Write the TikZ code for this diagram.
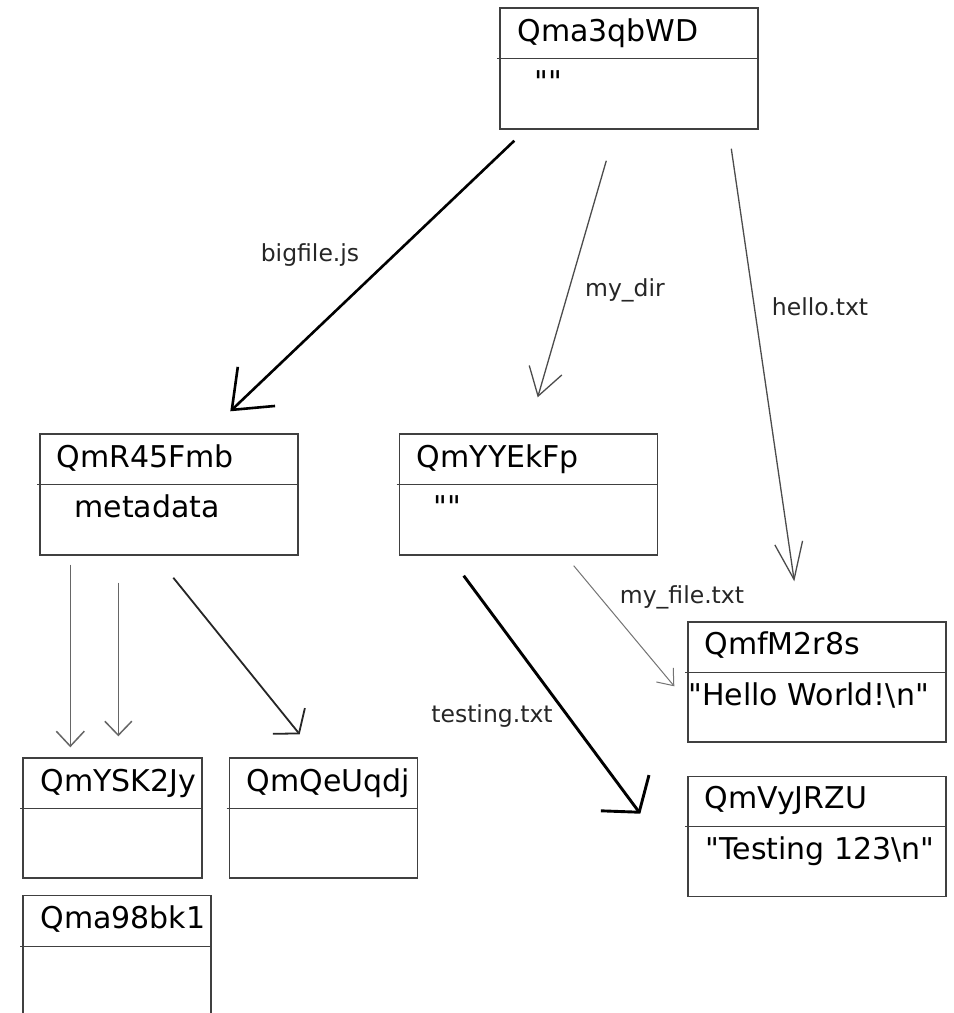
\documentclass[tikz,border=0pt]{standalone}
\usepackage{fontspec}
\setmainfont{DejaVu Sans}
\usepackage{tikz}
\usetikzlibrary{arrows.meta,positioning}

\begin{document}
\begin{tikzpicture}[
    x=1pt, y=-1pt,
    obj/.style={rectangle, draw=black!75, line width=1.4pt, minimum width=258pt, minimum height=121pt, inner sep=0pt},
    hash/.style={anchor=base west, inner sep=0pt, font=\fontsize{30}{36}\selectfont},
    divider/.style={draw=black!75, line width=1.4pt},
    edgelbl/.style={inner sep=0pt, text=black!85, font=\fontsize{23.5}{28}\selectfont},
    link/.style={draw=black!70, line width=1.3pt},
    heavy/.style={draw=black, line width=2.6pt},
    barb/.style 2 args={-{Straight Barb[length=#1, width=#2]}}
]
    \useasboundingbox[fill=white] (0,0) rectangle (954,1013);

    % objects
    \node[obj] (root) at (629,68.5) {};
    \node[obj, minimum height=121pt] (meta) at (169,494.5) {};
    \node[obj, right=100pt of meta] (dir) {};
    \node[obj, minimum height=120pt] (hello) at (817,682) {};
    \node[obj, minimum height=120pt, below=33pt of hello] (test) {};
    \node[obj, minimum width=179pt, minimum height=120pt] (ysk) at (112.5,818) {};
    \node[obj, minimum width=188pt, minimum height=120pt, right=26pt of ysk] (qeu) {};
    \node[obj, minimum width=188pt, below=16pt of ysk.south west, anchor=north west] (q98) {};

    \draw[divider] ([xshift=-2pt,yshift=-51pt]root.north west) -- ([yshift=-51pt]root.north east);
    \draw[divider] ([xshift=-2pt,yshift=-51pt]meta.north west) -- ([yshift=-51pt]meta.north east);
    \draw[divider] ([xshift=-2pt,yshift=-51pt]dir.north west) -- ([yshift=-51pt]dir.north east);
    \draw[divider] ([xshift=-2pt,yshift=-51pt]hello.north west) -- ([yshift=-51pt]hello.north east);
    \draw[divider] ([xshift=-2pt,yshift=-51pt]test.north west) -- ([yshift=-51pt]test.north east);
    \draw[divider] ([xshift=-2pt,yshift=-51pt]ysk.north west) -- ([yshift=-51pt]ysk.north east);
    \draw[divider] ([xshift=-2pt,yshift=-51pt]qeu.north west) -- ([yshift=-51pt]qeu.north east);
    \draw[divider] ([xshift=-2pt,yshift=-52pt]q98.north west) -- ([yshift=-52pt]q98.north east);

    % hashes and data
    \node[hash] (root-id) at ([xshift=18pt,yshift=-34pt]root.north west) {Qma3qbWD};
    \node[hash] (root-data) at ([xshift=35pt,yshift=-85pt]root.north west) {\textquotedbl\textquotedbl};
    \node[hash] (meta-id) at ([xshift=17pt,yshift=-34pt]meta.north west) {QmR45Fmb};
    \node[hash] (meta-data) at ([xshift=35pt,yshift=-84pt]meta.north west) {metadata};
    \node[hash] (dir-id) at ([xshift=18pt,yshift=-34pt]dir.north west) {QmYYEkFp};
    \node[hash] (dir-data) at ([xshift=35pt,yshift=-84pt]dir.north west) {\textquotedbl\textquotedbl};
    \node[hash] (hello-id) at ([xshift=17pt,yshift=-33pt]hello.north west) {QmfM2r8s};
    \node[hash] (hello-data) at ([xshift=1pt,yshift=-84pt]hello.north west) {\textquotedbl Hello World!\textbackslash n\textquotedbl};
    \node[hash] (test-id) at ([xshift=17pt,yshift=-33pt]test.north west) {QmVyJRZU};
    \node[hash] (test-data) at ([xshift=18pt,yshift=-84pt]test.north west) {\textquotedbl Testing 123\textbackslash n\textquotedbl};
    \node[hash] (ysk-id) at ([xshift=18pt,yshift=-34pt]ysk.north west) {QmYSK2Jy};
    \node[hash] (qeu-id) at ([xshift=18pt,yshift=-34pt]qeu.north west) {QmQeUqdj};
    \node[hash] (q98-id) at ([xshift=18pt,yshift=-34pt]q98.north west) {Qma98bk1};

    % links
    \draw[heavy, barb={34pt}{54pt}] ([xshift=15pt,yshift=-11pt]root.south west) -- ([xshift=191pt,yshift=22pt]meta.north west);
    \draw[link, barb={27pt}{34pt}] ([xshift=107pt,yshift=-31pt]root.south west) -- ([xshift=139pt,yshift=36pt]dir.north west);
    \draw[link, barb={37pt}{28pt}] ([xshift=232pt,yshift=-19pt]root.south west) -- ([xshift=107pt,yshift=40pt]hello.north west);
    \draw[link, draw=black!55, line width=1pt, barb={14pt}{22pt}] ([xshift=175pt,yshift=-10pt]dir.south west) -- ([xshift=-13pt,yshift=-65pt]hello.north west);
    \draw[heavy, line width=2.9pt, barb={24pt}{60pt}] ([xshift=65pt,yshift=-20pt]dir.south west) -- ([xshift=-47pt,yshift=-38pt]test.north west);
    \draw[link, draw=black!60, line width=1.5pt, barb={15pt}{28pt}] ([xshift=31pt,yshift=-9pt]meta.south west) -- ([xshift=48pt,yshift=10pt]ysk.north west);
    \draw[link, draw=black!60, line width=1.5pt, barb={14pt}{27pt}] ([xshift=79pt,yshift=-27pt]meta.south west) -- ([xshift=96pt,yshift=21pt]ysk.north west);
    \draw[link, draw=black!85, line width=1.8pt, barb={16pt}{41pt}] ([xshift=134pt,yshift=-22pt]meta.south west) -- ([xshift=71pt,yshift=23pt]qeu.north west);

    \node[edgelbl] (bigfile) at (310,255) {bigfile.js};
    \node[edgelbl] (mydir) at (625,290) {my\_dir};
    \node[edgelbl] (hellotxt) at (820,307) {hello.txt};
    \node[edgelbl] (myfile) at (682,597) {my\_file.txt};
    \node[edgelbl] (testing) at (492,716) {testing.txt};
\end{tikzpicture}
\end{document}
